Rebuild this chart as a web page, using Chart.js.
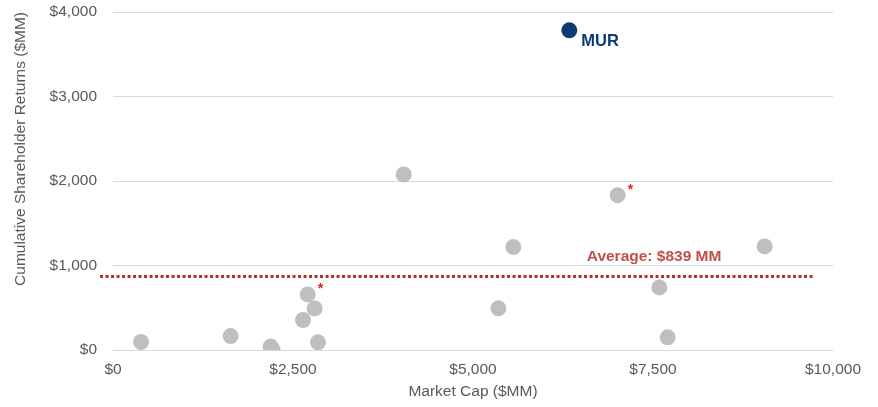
<!DOCTYPE html>
<html>
<head>
<meta charset="utf-8">
<script src="https://cdn.jsdelivr.net/npm/chart.js@4.4.1/dist/chart.umd.min.js"></script>
<style>
  html, body { margin: 0; padding: 0; background: #fff; }
  #wrap { width: 878px; height: 407px; }
</style>
</head>
<body>
<div id="wrap"><canvas id="capChart" width="878" height="407"></canvas></div>
<script>
// peer companies: market cap vs cumulative shareholder returns ($MM)
const peerCap     = [389, 1634, 2190, 2218, 2704, 2801, 2639, 2847, 4037, 7009, 5560, 9051, 5352, 7588, 7704];
const peerReturns = [95, 165, 40, 0, 658, 492, 355, 91, 2077, 1832, 1218, 1226, 493, 741, 150];

const murCap = [6338];
const murReturns = [3783];

const averageValue = 839;
const averageLineY = 870;          // where the dotted line sits in the picture
const averageLineX = [-180, 9750];

// peers marked with an asterisk (index into peer arrays)
const starred = [4, 9];

const xTicks = [0, 2500, 5000, 7500, 10000];
const yTicks = [0, 1000, 2000, 3000, 4000];

const fmt = v => '$' + v.toLocaleString('en-US');
const FONT = '"Liberation Sans", Arial, sans-serif';

const ctx = document.getElementById('capChart').getContext('2d');

const labelPlugin = {
    id: 'labels',
    afterDatasetsDraw(chart) {
        const c = chart.ctx;
        const xs = chart.scales.x;
        const ys = chart.scales.y;
        c.save();
        c.textBaseline = 'middle';
        c.textAlign = 'left';

        // MUR
        c.fillStyle = '#0d3a70';
        c.font = 'bold 16.5px ' + FONT;
        c.fillText('MUR', xs.getPixelForValue(murCap[0]) + 12, ys.getPixelForValue(murReturns[0]) + 11);

        // average label
        c.fillStyle = '#c0504d';
        c.font = 'bold 15.5px ' + FONT;
        c.fillText('Average: ' + fmt(averageValue) + ' MM', xs.getPixelForValue(6580), ys.getPixelForValue(averageLineY) - 20);

        // asterisks
        c.fillStyle = '#e02020';
        c.font = 'bold 14px ' + FONT;
        starred.forEach(i => {
            c.fillText('*', xs.getPixelForValue(peerCap[i]) + 10, ys.getPixelForValue(peerReturns[i]) - 5);
        });
        c.restore();
    }
};

const capChart = new Chart(ctx, {
    type: 'scatter',
    data: {
        datasets: [
            {
                type: 'line',
                label: 'Average',
                data: averageLineX.map(x => ({ x: x, y: averageLineY })),
                borderColor: '#b5302a',
                borderWidth: 3,
                borderDash: [3, 2.5],
                pointRadius: 0,
                fill: false,
                clip: false,
                order: 3
            },
            {
                label: 'Peers',
                data: peerCap.map((x, i) => ({ x: x, y: peerReturns[i] })),
                backgroundColor: '#bfbfbf',
                borderWidth: 0,
                pointRadius: 8,
                order: 2
            },
            {
                label: 'MUR',
                data: murCap.map((x, i) => ({ x: x, y: murReturns[i] })),
                backgroundColor: '#0d3a70',
                borderWidth: 0,
                pointRadius: 8,
                order: 1
            }
        ]
    },
    options: {
        responsive: false,
        animation: false,
        layout: { padding: { top: 12, right: 45, left: 0, bottom: 0 } },
        plugins: {
            legend: { display: false },
            tooltip: { enabled: false }
        },
        scales: {
            x: {
                type: 'linear',
                min: 0,
                max: 10000,
                afterBuildTicks: s => { s.ticks = xTicks.map(v => ({ value: v })); },
                afterFit: s => { s.height = 57; },
                grid: { display: false, drawTicks: false },
                border: { display: false },
                ticks: {
                    padding: 10,
                    color: '#595959',
                    font: { family: FONT, size: 15.5 },
                    callback: v => fmt(v)
                },
                title: {
                    display: true,
                    text: 'Market Cap ($MM)',
                    color: '#595959',
                    font: { family: FONT, size: 15.5 },
                    padding: { top: 4, bottom: 6 }
                }
            },
            y: {
                type: 'linear',
                min: 0,
                max: 4000,
                afterBuildTicks: s => { s.ticks = yTicks.map(v => ({ value: v })); },
                afterFit: s => { s.width = 113; s.paddingTop = 0; s.paddingBottom = 0; },
                grid: { color: '#d9d9d9', lineWidth: 1, drawTicks: false },
                border: { display: false },
                ticks: {
                    padding: 16,
                    color: '#595959',
                    font: { family: FONT, size: 15.5 },
                    callback: v => fmt(v)
                },
                title: {
                    display: true,
                    align: 'end',
                    text: 'Cumulative Shareholder Returns ($MM)',
                    color: '#595959',
                    font: { family: FONT, size: 15.5 },
                    padding: { top: 11, bottom: 0 }
                }
            }
        }
    },
    plugins: [labelPlugin]
});
</script>
</body>
</html>
